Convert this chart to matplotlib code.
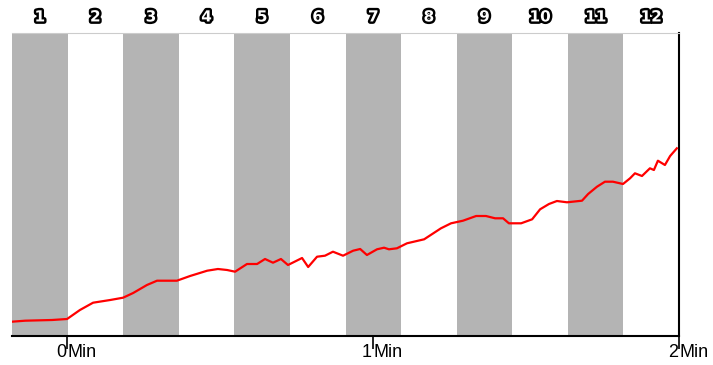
import matplotlib.pyplot as plt
import matplotlib.patheffects as pe

# time in minutes, value in arbitrary units (plot height = 303)
t = [-0.180, -0.137, -0.049, 0.000, 0.042, 0.085, 0.141, 0.183, 0.216, 0.261,
     0.294, 0.359, 0.402, 0.458, 0.493, 0.523, 0.549, 0.588, 0.621, 0.647,
     0.673, 0.699, 0.722, 0.768, 0.788, 0.817, 0.843, 0.869, 0.902, 0.935,
     0.958, 0.980, 1.013, 1.036, 1.052, 1.078, 1.111, 1.167, 1.222, 1.255,
     1.294, 1.337, 1.369, 1.399, 1.425, 1.444, 1.484, 1.520, 1.546, 1.575,
     1.601, 1.634, 1.683, 1.703, 1.732, 1.758, 1.784, 1.817, 1.840, 1.856,
     1.879, 1.905, 1.918, 1.931, 1.954, 1.971, 1.993]
v = [14.3, 15.3, 16.0, 17.0, 26.0, 33.3, 36.0, 38.3, 43.0, 51.0,
     55.3, 55.3, 60.0, 65.3, 67.0, 66.0, 64.3, 72.0, 72.0, 77.0,
     73.3, 77.0, 71.0, 78.0, 69.0, 79.3, 80.3, 84.3, 80.3, 85.3,
     87.0, 81.0, 86.7, 88.3, 86.7, 87.7, 92.7, 96.7, 107.7, 112.7,
     115.3, 120.0, 120.0, 117.7, 117.7, 112.7, 112.7, 116.7, 126.7, 132.0,
     135.0, 133.7, 135.3, 142.0, 149.3, 154.3, 154.3, 152.0, 157.7, 162.7,
     160.0, 167.7, 166.0, 175.3, 171.0, 180.0, 187.7]
columns = [str(i) for i in range(1, 13)]
tick_pos = [0, 1, 2]
tick_num = ['0', '1', '2']

W, H = 713, 365
fig = plt.figure(figsize=(W / 100, H / 100), dpi=100)
ax = fig.add_axes([12 / W, (H - 336) / H, 667 / W, 303 / H])

x0, x1 = -0.180, 2.0
colw = (x1 - x0) / 12
for i in range(12):
    a = x0 + i * colw
    if i % 2 == 0:
        ax.axvspan(a, a + colw, color='#b4b4b4', lw=0, zorder=0)
    ax.text(a + colw / 2, 1.053, columns[i], transform=ax.get_xaxis_transform(),
            ha='center', va='center', fontsize=11, fontweight='bold', color='white',
            path_effects=[pe.withStroke(linewidth=3.5, foreground='black')])

ax.plot(t, v, color='red', lw=1.6, zorder=3)

ax.set_xlim(x0, x1)
ax.set_ylim(0, 303)
ax.set_yticks([])
ax.spines['left'].set_visible(False)
ax.spines['top'].set_color('#cccccc')
ax.spines['right'].set_linewidth(1.5)
ax.spines['bottom'].set_linewidth(1.5)

ax.set_xticks(tick_pos)
ax.set_xticklabels([])
ax.tick_params(axis='x', direction='out', length=9, width=1.2)
for p, n in zip(tick_pos, tick_num):
    ax.text(p - 0.003, -0.025, n, transform=ax.get_xaxis_transform(),
            ha='right', va='top', fontsize=13, family='Liberation Sans')
    ax.text(p + 0.003, -0.025, 'Min', transform=ax.get_xaxis_transform(),
            ha='left', va='top', fontsize=13, family='Liberation Sans')

fig.savefig('out.png', dpi=100)
